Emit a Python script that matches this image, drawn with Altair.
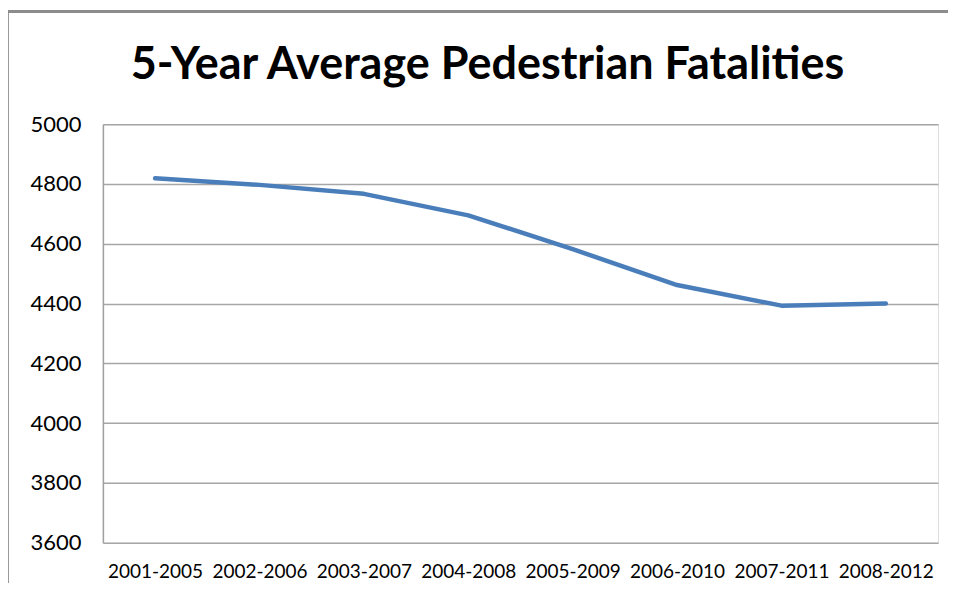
import altair as alt
import pandas as pd

periods = ["2001-2005", "2002-2006", "2003-2007", "2004-2008",
           "2005-2009", "2006-2010", "2007-2011", "2008-2012"]
fatalities = [4819, 4797, 4767, 4695, 4582, 4462, 4393, 4400]
y_ticks = [3600, 3800, 4000, 4200, 4400, 4600, 4800, 5000]

df = pd.DataFrame({"period": periods, "value": fatalities})

line = alt.Chart(df).mark_line(
    color="#4a7ebb", strokeWidth=4.5, interpolate="linear",
    strokeJoin="round", strokeCap="round"
).encode(
    x=alt.X("period:N", sort=periods,
            scale=alt.Scale(type="point", padding=0.5),
            axis=alt.Axis(title=None, labelAngle=0, labelFont="Lato",
                          labelFontSize=19, labelColor="#000000",
                          labelPadding=20, ticks=False, domain=False,
                          grid=False)),
    y=alt.Y("value:Q", scale=alt.Scale(domain=[3600, 5000], nice=False, zero=False),
            axis=alt.Axis(title=None, values=y_ticks, format="d", labelFont="Lato",
                          labelFontSize=22, labelColor="#000000",
                          labelPadding=22, ticks=False, domain=True,
                          domainColor="#a0a0a0", domainWidth=1.5,
                          grid=True, gridColor="#a6a6a6", gridWidth=1.5)),
)

frame = alt.Chart(df).mark_rect(
    fill=None, stroke="#8c8c8c", strokeWidth=2.5, clip=False
).encode(
    x=alt.value(-96), x2=alt.value(1000), y=alt.value(-113), y2=alt.value(600)
)

chart = alt.layer(frame, line).properties(
    width=836, height=419,
    autosize=alt.AutoSizeParams(type="none"),
    padding={"left": 95, "top": 116, "right": 10, "bottom": 40},
    title=alt.TitleParams(
        "5-Year Average Pedestrian Fatalities",
        font="Lato", fontSize=45, fontWeight="bold", color="#000000",
        anchor="middle", frame="group", dx=-33, offset=-78
    ),
).configure_view(stroke=None).configure(background="white")

chart.save("out.html", embed_options={"renderer": "svg", "actions": False})
